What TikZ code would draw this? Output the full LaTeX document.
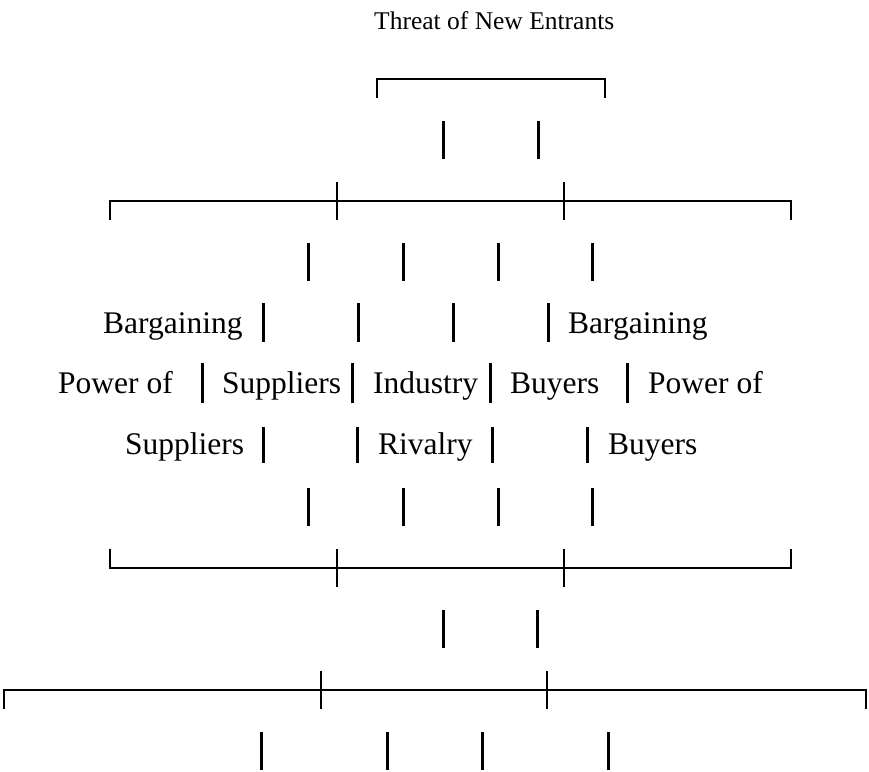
\documentclass[tikz,border=0pt]{standalone}
\usepackage{fontspec}
\setmainfont{Liberation Serif}
\begin{document}
\begin{tikzpicture}[x=1pt,y=-1pt,
  hline/.style={line width=2.9pt, line cap=butt, line join=miter},
  vbar/.style={line width=3pt, line cap=butt},
  lbl/.style={anchor=base west, inner sep=0pt, font=\fontsize{31.5}{36}\selectfont},
  ttl/.style={anchor=base west, inner sep=0pt, font=\fontsize{25.5}{30}\selectfont}]
\useasboundingbox (0,0) rectangle (869,771);
% title
\node[ttl] (title) at (374,29) {Threat of New Entrants};
% top bracket
\draw[hline] (377,98) -- (377,79) -- (605,79) -- (605,98);
% row 2 bars
\foreach \x in {443,538} \draw[vbar] (\x,121) -- (\x,159);
% bracket 2
\draw[hline] (110,220) -- (110,201) -- (791,201) -- (791,220);
\foreach \x in {337,564} \draw[hline] (\x,182) -- (\x,220);
% row 4 bars
\foreach \x in {308,403,498,592} \draw[vbar] (\x,243) -- (\x,281);
% row 5
\node[lbl] (bl) at (103,333) {Bargaining};
\node[lbl] (br) at (568,333) {Bargaining};
\foreach \x in {263,358,453,548} \draw[vbar] (\x,303) -- (\x,342);
% row 6
\node[lbl] (pl) at (58,393) {Power of};
\node[lbl] (sm) at (222,393) {Suppliers};
\node[lbl] (ind) at (373,393) {Industry};
\node[lbl] (bm) at (510,393) {Buyers};
\node[lbl] (pr) at (648,393) {Power of};
\foreach \x in {202,352,490,627} \draw[vbar] (\x,363) -- (\x,403);
% row 7
\node[lbl] (sl) at (125,454) {Suppliers};
\node[lbl] (riv) at (378,454) {Rivalry};
\node[lbl] (byr) at (608,454) {Buyers};
\foreach \x in {263,357,492,587} \draw[vbar] (\x,427) -- (\x,463);
% row 8 bars
\foreach \x in {308,403,498,592} \draw[vbar] (\x,488) -- (\x,526);
% bracket 3
\draw[hline] (110,549) -- (110,568) -- (791,568) -- (791,549);
\foreach \x in {337,564} \draw[hline] (\x,549) -- (\x,587);
% row 10 bars
\foreach \x in {443,537} \draw[vbar] (\x,610) -- (\x,648);
% bracket 4
\draw[hline] (4,709) -- (4,690) -- (866,690) -- (866,709);
\foreach \x in {321,547} \draw[hline] (\x,671) -- (\x,709);
% row 12 bars
\foreach \x in {261,387,482,608} \draw[vbar] (\x,732) -- (\x,770);
\end{tikzpicture}
\end{document}
